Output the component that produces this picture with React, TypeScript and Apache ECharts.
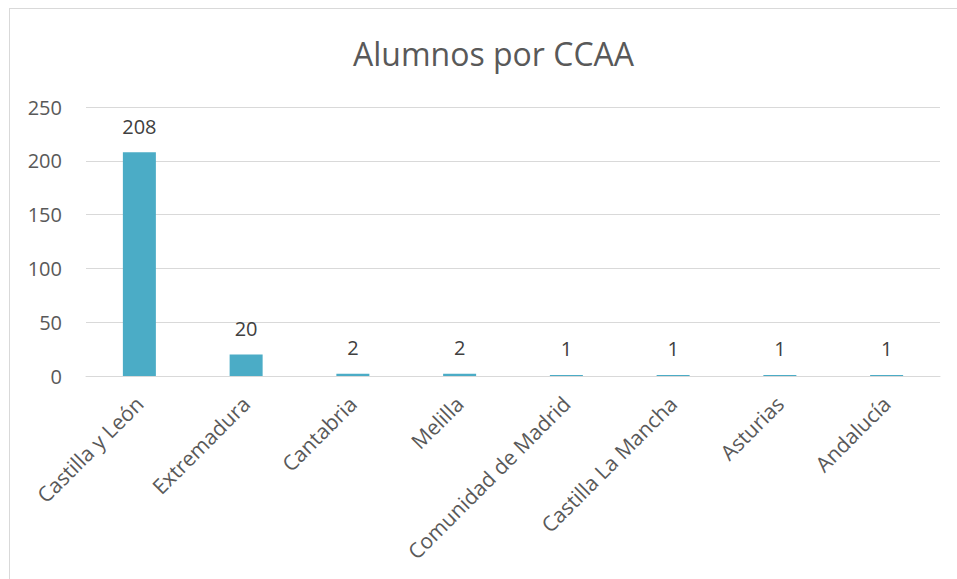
import React, { useEffect, useRef } from "react";
import * as echarts from "echarts";

const categories = [
  "Castilla y León",
  "Extremadura",
  "Cantabria",
  "Melilla",
  "Comunidad de Madrid",
  "Castilla La Mancha",
  "Asturias",
  "Andalucía",
];
const values = [208, 20, 2, 2, 1, 1, 1, 1];
const titleText = "Alumnos por CCAA";
const yMin = 0;
const yMax = 250;
const yInterval = 50;

export default function App() {
  const ref = useRef<HTMLDivElement>(null);
  useEffect(() => {
    if (!ref.current) return;
    const chart = echarts.init(ref.current, null, { renderer: "svg" });
    const font = "Open Sans";
    chart.setOption({
      animation: false,
      backgroundColor: "#ffffff",
      title: {
        text: titleText,
        left: 348,
        top: 32,
        textStyle: { fontFamily: font, fontSize: 32, fontWeight: "normal", color: "#595959" },
      },
      grid: { left: 86, right: 17, top: 107, bottom: 203, containLabel: false },
      xAxis: {
        type: "category",
        data: categories,
        axisLine: { show: true, lineStyle: { color: "#d9d9d9", width: 1 } },
        axisTick: { show: false },
        axisLabel: {
          interval: 0,
          rotate: 45,
          margin: 24,
          fontFamily: font,
          fontSize: 21,
          color: "#595959",
        },
      },
      yAxis: {
        type: "value",
        min: yMin,
        max: yMax,
        interval: yInterval,
        axisLine: { show: false },
        axisTick: { show: false },
        splitLine: { lineStyle: { color: "#d9d9d9", width: 1 } },
        axisLabel: { margin: 24, fontFamily: font, fontSize: 20, color: "#595959" },
      },
      series: [
        {
          type: "bar",
          data: values,
          barWidth: 33,
          itemStyle: { color: "#4BACC6" },
          label: {
            show: true,
            position: "top",
            distance: 16,
            fontFamily: font,
            fontSize: 20,
            color: "#404040",
          },
        },
      ],
      graphic: [
        {
          type: "line",
          shape: { x1: 9, y1: 8.5, x2: 957, y2: 8.5 },
          style: { stroke: "#d9d9d9", lineWidth: 1 },
        },
        {
          type: "line",
          shape: { x1: 9.5, y1: 8, x2: 9.5, y2: 579 },
          style: { stroke: "#d9d9d9", lineWidth: 1 },
        },
      ],
    });
    return () => chart.dispose();
  }, []);
  return (
    <div
      ref={ref}
      style={{ position: "fixed", left: 0, top: 0, width: 957, height: 579 }}
    />
  );
}
